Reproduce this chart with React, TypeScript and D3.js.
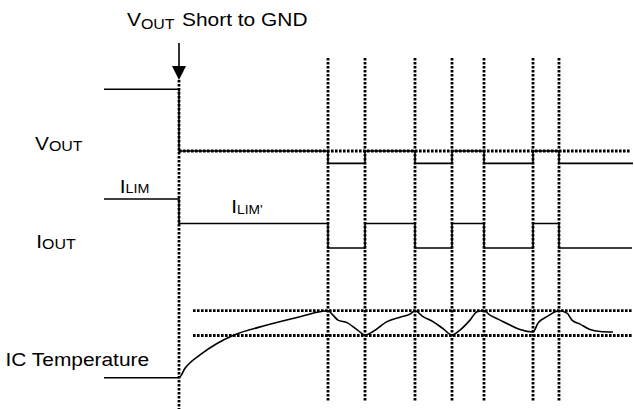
import React from "react";
import * as d3 from "d3";

// time axis (arbitrary units, 0 = VOUT short to GND)
const shortTime = 0;
const switchTimes = [149, 186, 236, 273, 305, 354, 380];

// VOUT (normalized: 1 = regulated, 0 = shorted)
const voutTimes = [-75, 0, 149, 186, 236, 273, 305, 354, 380, 454];
const voutLevels = [1, 0, -0.2, 0, -0.2, 0, -0.2, 0, -0.2, -0.2];

// IOUT (normalized: 1 = ILIM, 0.5 = ILIM')
const ioutTimes = [-75, 0, 149, 186, 236, 273, 305, 354, 380, 453];
const ioutLevels = [1, 0.5, 0, 0.5, 0, 0.5, 0, 0.5, 0, 0];

// IC temperature (°C)
const tempTimes = [-75, 0, 6, 21, 38, 54, 88, 121, 149, 154, 159, 168, 178, 186, 194, 208, 221, 231, 236, 244, 254, 264, 273, 281, 291, 298, 305, 311, 321, 331, 341, 354, 359, 368, 380, 388, 393, 401, 411, 421, 434];
const tempValues = [25, 25, 44, 71, 94, 110, 131, 148, 160, 151, 141, 136, 122, 111, 118, 138, 147, 153, 160, 148, 138, 124, 111, 121, 141, 158, 160, 151, 141, 131, 122, 117, 135, 148, 160, 155, 141, 133, 122, 118, 117];
const tempThresholds = [160, 110];

const FONT = "'Liberation Sans', Arial, Helvetica, sans-serif";

export default function App() {
  const W = 634;
  const H = 409;
  const x = d3.scaleLinear().domain([-75, 455]).range([104, 634]);
  const yV = d3.scaleLinear().domain([1, 0]).range([89.3, 151]);
  const yI = d3.scaleLinear().domain([0, 1]).range([248, 199]);
  const yT = d3.scaleLinear().domain([25, 160]).range([377.7, 310.7]);

  const stepLine = d3.line<[number, number]>().curve(d3.curveStepAfter);
  const smoothLine = d3.line<[number, number]>().curve(d3.curveMonotoneX);

  const voutPath = stepLine(voutTimes.map((t, i) => [x(t), yV(voutLevels[i])]))!;
  const ioutPath = stepLine(ioutTimes.map((t, i) => [x(t), yI(ioutLevels[i])]))!;
  const tempPath = smoothLine(tempTimes.map((t, i) => [x(t), yT(tempValues[i])]))!;

  const dot = { stroke: "#000", strokeWidth: 2.8, strokeDasharray: "2.6 1.4", fill: "none" };
  const solid = { stroke: "#000", strokeWidth: 1.6, fill: "none" };
  const x0 = x(shortTime);

  const label = (tx: number, ty: number, children: React.ReactNode) => (
    <text transform={`translate(${tx},${ty}) scale(1.1,1)`} fontFamily={FONT} fontSize={19} fill="#000">
      {children}
    </text>
  );

  return (
    <svg width={W} height={H} style={{ position: "absolute", left: 0, top: 0, background: "#fff" }}>
      {/* signals */}
      <path d={voutPath} {...solid} />
      <path d={ioutPath} {...solid} />
      <path d={tempPath} {...solid} />

      {/* VOUT zero dotted */}
      <line x1={x0} x2={630} y1={yV(0)} y2={yV(0)} {...dot} />
      {/* temperature thresholds */}
      {tempThresholds.map((v) => (
        <line key={v} x1={193} x2={632} y1={yT(v)} y2={yT(v)} {...dot} />
      ))}
      {/* switching edges */}
      {switchTimes.map((t) => (
        <line key={t} x1={x(t)} x2={x(t)} y1={58} y2={402} {...dot} />
      ))}
      {/* short marker */}
      <line x1={x0} x2={x0} y1={80} y2={409} {...dot} />
      <line x1={x0} x2={x0} y1={43} y2={67} stroke="#000" strokeWidth={1.6} />
      <path d={`M${x0 - 7},66 L${x0 + 7},66 L${x0},80 Z`} fill="#000" />

      {/* labels */}
      {label(127, 26, (
        <>
          <tspan>V</tspan>
          <tspan fontSize={14.5} dy={3}>OUT</tspan>
          <tspan dy={-3} dx={1.5}> Short to GND</tspan>
        </>
      ))}
      {label(35, 150, (
        <>
          <tspan>V</tspan>
          <tspan fontSize={14.5} dy={1}>OUT</tspan>
        </>
      ))}
      {label(119.7, 192.7, (
        <>
          <tspan>I</tspan>
          <tspan fontSize={13} dy={0.6}>LIM</tspan>
        </>
      ))}
      {label(231.3, 213.3, (
        <>
          <tspan>I</tspan>
          <tspan fontSize={12.5} dy={0.7}>LIM'</tspan>
        </>
      ))}
      {label(36.3, 248, (
        <>
          <tspan>I</tspan>
          <tspan fontSize={14.5} dy={1}>OUT</tspan>
        </>
      ))}
      {label(5.5, 366, <tspan>IC Temperature</tspan>)}
    </svg>
  );
}
